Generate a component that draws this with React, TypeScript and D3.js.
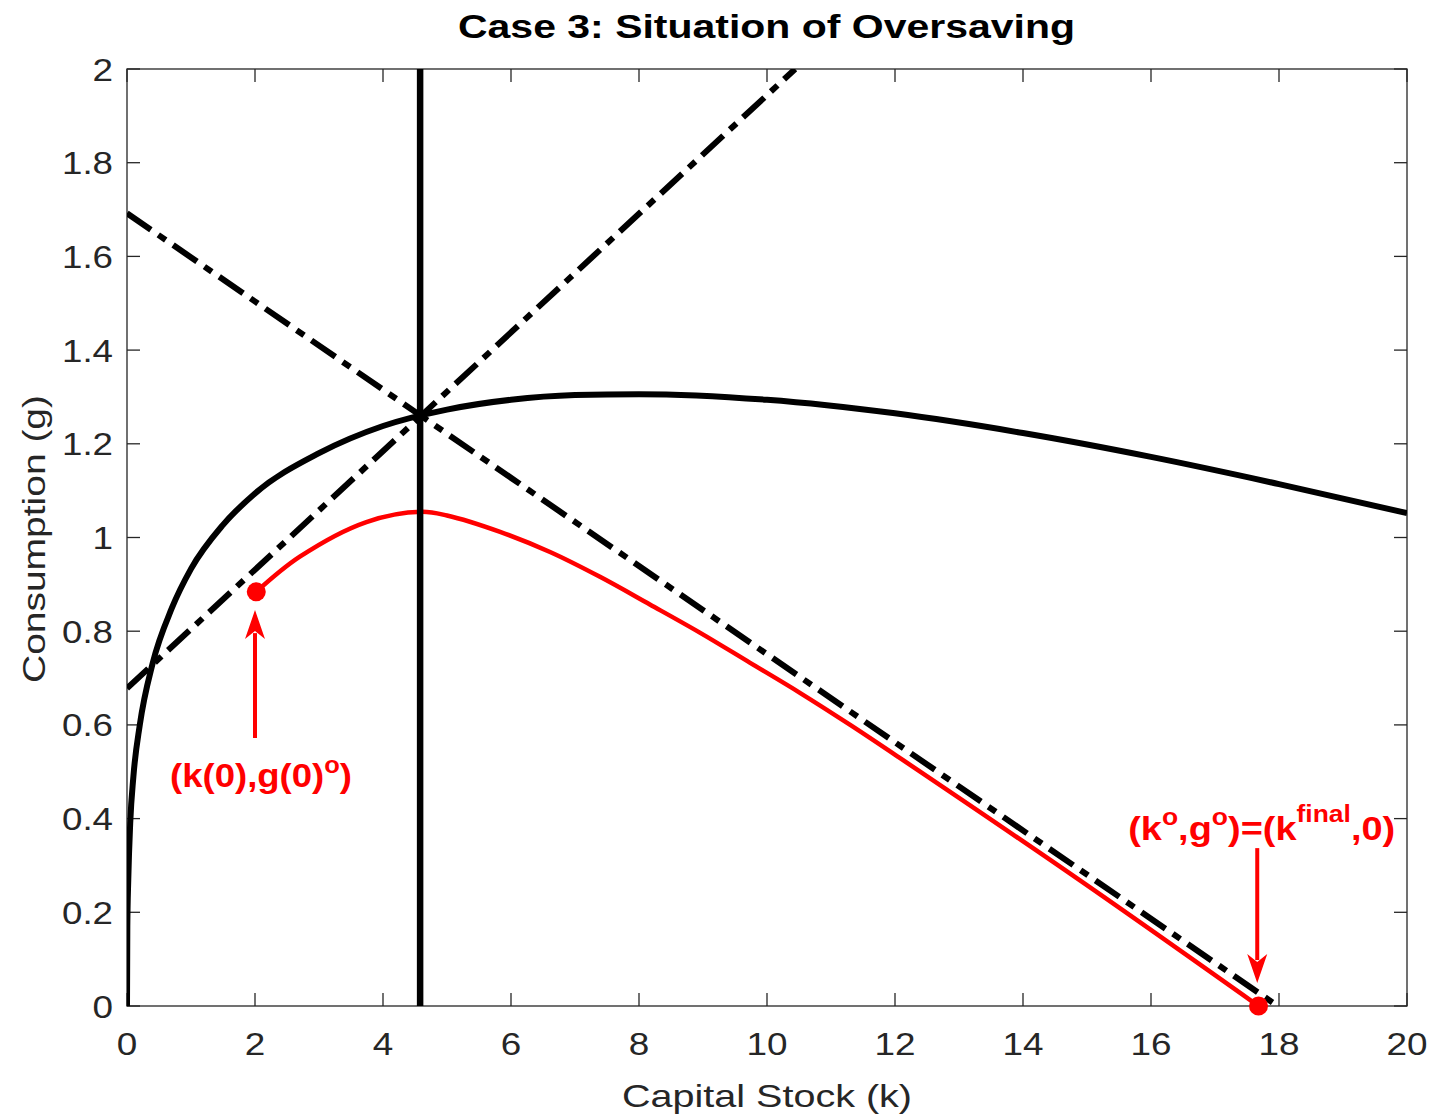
import React from "react";
import * as d3 from "d3";

// ---- data ----
const kTicks = [0, 2, 4, 6, 8, 10, 12, 14, 16, 18, 20];
const gTicks = [0, 0.2, 0.4, 0.6, 0.8, 1, 1.2, 1.4, 1.6, 1.8, 2];
const gTickLabels = ["0", "0.2", "0.4", "0.6", "0.8", "1", "1.2", "1.4", "1.6", "1.8", "2"];

// black solid concave curve
const curveK = [0, 0.005, 0.02, 0.05, 0.1, 0.2, 0.4, 0.7, 1.0, 1.5, 2.0, 3.0, 4.0, 5.0, 6.0, 7.0, 8.0, 10.0, 12.0, 14.0, 16.0, 18.0, 20.0];
const curveG = [0, 0.17, 0.27, 0.39, 0.49, 0.6, 0.731, 0.849, 0.933, 1.027, 1.094, 1.18, 1.238, 1.273, 1.294, 1.304, 1.306, 1.294, 1.265, 1.223, 1.172, 1.114, 1.052];

// red optimal path
const pathK = [2.02, 2.7, 3.74, 4.6, 5.0, 5.83, 6.61, 7.39, 8.17, 8.95, 9.73, 10.52, 11.3, 12.08, 14.89, 17.68];
const pathG = [0.884, 0.959, 1.033, 1.055, 1.047, 1.012, 0.969, 0.916, 0.857, 0.797, 0.733, 0.668, 0.6, 0.529, 0.268, 0.0];

// dash-dot straight lines (endpoints)
const risingLineK = [0, 10.44];
const risingLineG = [0.678, 2.0];
const fallingLineK = [0, 17.98];
const fallingLineG = [1.692, 0];

// vertical line
const kStar = 4.58;

// red points
const dotK = [2.02, 17.68];
const dotG = [0.884, 0.0];

// annotations (data coords)
const arrow1 = { k: 2.0, gFrom: 0.572, gTo: 0.845 };
const arrow2 = { k: 17.66, gFrom: 0.337, gTo: 0.049 };

const W = 1432;
const H = 1118;
const X0 = 127, X1 = 1407, Y0 = 1006, Y1 = 69;
const FONT = "'Liberation Sans', Arial, Helvetica, sans-serif";
const AX = "#262626";
const RED = "#ff0000";

export default function App() {
  const x = d3.scaleLinear().domain([0, 20]).range([X0, X1]);
  const y = d3.scaleLinear().domain([0, 2]).range([Y0, Y1]);

  const line = d3
    .line<[number, number]>()
    .x((d) => x(d[0]))
    .y((d) => y(d[1]));
  const smooth = d3
    .line<[number, number]>()
    .x((d) => x(d[0]))
    .y((d) => y(d[1]))
    .curve(d3.curveMonotoneX);
  const smoothCR = d3
    .line<[number, number]>()
    .x((d) => x(d[0]))
    .y((d) => y(d[1]))
    .curve(d3.curveCatmullRom.alpha(0.5));

  const curvePts = curveK.map((k, i) => [k, curveG[i]] as [number, number]);
  const pathPts = pathK.map((k, i) => [k, pathG[i]] as [number, number]);
  const rising = risingLineK.map((k, i) => [k, risingLineG[i]] as [number, number]);
  const falling = fallingLineK.map((k, i) => [k, fallingLineG[i]] as [number, number]);

  const tickLen = 13;
  const tickW = (s: string) =>
    s.split("").reduce((a, c) => a + (c === "." ? 10 : 20.5), 0);

  const arrow = (a: { k: number; gFrom: number; gTo: number }) => {
    const ax = x(a.k);
    const yFrom = y(a.gFrom);
    const yTo = y(a.gTo);
    const dir = yTo < yFrom ? 1 : -1; // 1 => pointing up
    const headLen = 27;
    const half = 10;
    const yBase = yTo + dir * headLen;
    return (
      <g>
        <line x1={ax} y1={yFrom} x2={ax} y2={yBase - dir * 4} stroke={RED} strokeWidth={4} />
        <path
          d={`M${ax},${yTo} L${ax - half},${yBase + dir * 2} L${ax},${yBase - dir * 6} L${ax + half},${yBase + dir * 2} Z`}
          fill={RED}
        />
      </g>
    );
  };

  return (
    <svg
      width={W}
      height={H}
      style={{ position: "absolute", left: 0, top: 0, background: "#fff" }}
      fontFamily={FONT}
    >
      <defs>
        <clipPath id="plotclip">
          <rect x={X0} y={Y1} width={X1 - X0} height={Y0 - Y1} />
        </clipPath>
      </defs>
      <rect x={0} y={0} width={W} height={H} fill="#fff" />

      {/* title */}
      <text
        x={766.5}
        y={38}
        textAnchor="middle"
        fontWeight="bold"
        fontSize={33}
        textLength={617}
        lengthAdjust="spacingAndGlyphs"
        fill="#000"
      >
        Case 3: Situation of Oversaving
      </text>

      {/* axes box */}
      <rect x={X0} y={Y1} width={X1 - X0} height={Y0 - Y1} fill="none" stroke={AX} strokeWidth={1.3} />
      {kTicks.map((k) => (
        <g key={"xt" + k}>
          <line x1={x(k)} x2={x(k)} y1={Y0} y2={Y0 - tickLen} stroke={AX} strokeWidth={1.3} />
          <line x1={x(k)} x2={x(k)} y1={Y1} y2={Y1 + tickLen} stroke={AX} strokeWidth={1.3} />
          <text
            x={x(k)}
            y={1055}
            textAnchor="middle"
            fontSize={32}
            fill={AX}
            textLength={tickW(String(k))}
            lengthAdjust="spacingAndGlyphs"
          >
            {String(k)}
          </text>
        </g>
      ))}
      {gTicks.map((g, i) => (
        <g key={"yt" + g}>
          <line x1={X0} x2={X0 + tickLen} y1={y(g)} y2={y(g)} stroke={AX} strokeWidth={1.3} />
          <line x1={X1} x2={X1 - tickLen} y1={y(g)} y2={y(g)} stroke={AX} strokeWidth={1.3} />
          <text
            x={113}
            y={y(g) + 11.5}
            textAnchor="end"
            fontSize={32}
            fill={AX}
            textLength={tickW(gTickLabels[i])}
            lengthAdjust="spacingAndGlyphs"
          >
            {gTickLabels[i]}
          </text>
        </g>
      ))}

      {/* axis labels */}
      <text
        x={767}
        y={1107}
        textAnchor="middle"
        fontSize={32}
        fill={AX}
        textLength={290}
        lengthAdjust="spacingAndGlyphs"
      >
        Capital Stock (k)
      </text>
      <text
        transform={`translate(45,539) rotate(-90)`}
        textAnchor="middle"
        fontSize={32}
        fill={AX}
        textLength={288}
        lengthAdjust="spacingAndGlyphs"
      >
        Consumption (g)
      </text>

      <g clipPath="url(#plotclip)">
        {/* red path */}
        <path d={smoothCR(pathPts) || ""} fill="none" stroke={RED} strokeWidth={4.5} />
        {/* vertical line */}
        <line x1={x(kStar)} x2={x(kStar)} y1={y(0)} y2={y(2)} stroke="#000" strokeWidth={6.5} />
        {/* black curve */}
        <path d={smooth(curvePts) || ""} fill="none" stroke="#000" strokeWidth={6} />
        {/* dash-dot lines */}
        <path d={line(rising) || ""} fill="none" stroke="#000" strokeWidth={6} strokeDasharray="29,9,9,9" />
        <path d={line(falling) || ""} fill="none" stroke="#000" strokeWidth={6} strokeDasharray="29,9,9,9" />
      </g>

      {/* red dots */}
      {dotK.map((k, i) => (
        <circle key={"d" + i} cx={x(k)} cy={y(dotG[i])} r={9.5} fill={RED} />
      ))}

      {/* arrows */}
      {arrow(arrow1)}
      {arrow(arrow2)}

      {/* annotation labels */}
      <text
        x={261}
        y={787}
        textAnchor="middle"
        fontWeight="bold"
        fontSize={33}
        fill={RED}
        textLength={182}
        lengthAdjust="spacingAndGlyphs"
      >
        (k(0),g(0)
        <tspan fontSize={23} dy={-14}>o</tspan>
        <tspan dy={14}>)</tspan>
      </text>
      <text
        x={1261.7}
        y={840}
        textAnchor="middle"
        fontWeight="bold"
        fontSize={33}
        fill={RED}
        textLength={267}
        lengthAdjust="spacingAndGlyphs"
      >
        (k
        <tspan fontSize={23} dy={-15}>o</tspan>
        <tspan dy={15}>,g</tspan>
        <tspan fontSize={23} dy={-15}>o</tspan>
        <tspan dy={15}>)=(k</tspan>
        <tspan fontSize={23} dy={-18}>final</tspan>
        <tspan dy={18}>,0)</tspan>
      </text>
    </svg>
  );
}
